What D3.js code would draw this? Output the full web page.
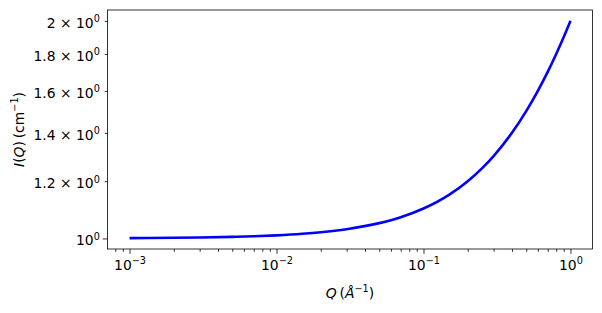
<!DOCTYPE html>
<html>
<head>
<meta charset="utf-8">
<script src="https://cdn.jsdelivr.net/npm/d3@7"></script>
<style>
  body { margin: 0; background: #fff; }
</style>
</head>
<body>
<svg width="602" height="313" font-family="DejaVu Sans"></svg>
<script>
// scattering curve
let q = [0.001, 0.002, 0.003, 0.005, 0.007, 0.01, 0.015, 0.02, 0.03, 0.05, 0.07,
         0.1, 0.15, 0.2, 0.25, 0.3, 0.4, 0.5, 0.6, 0.7, 0.8, 0.9, 1.0];
let intensity = [1.001, 1.002, 1.003, 1.005, 1.007, 1.01, 1.015, 1.02, 1.03, 1.05, 1.07,
                 1.10, 1.15, 1.20, 1.25, 1.30, 1.40, 1.50, 1.60, 1.70, 1.80, 1.90, 2.00];

// tick labels
let xTickExponents = [-3, -2, -1, 0];
let yTickValues = [1.0, 1.2, 1.4, 1.6, 1.8, 2.0];
let yTickMantissas = ["", "1.2", "1.4", "1.6", "1.8", "2"];

const svg = d3.select("svg");
const mLeft = 107.5, mRight = 592.5, mTop = 10, mBottom = 249;
const fontSize = 13.9, supSize = 9.7;

// log extent with matplotlib's 5% margin
function padLog(values) {
    let lo = Math.log10(d3.min(values)), hi = Math.log10(d3.max(values));
    let m = (hi - lo) * 0.05;
    return [Math.pow(10, lo - m), Math.pow(10, hi + m)];
}

const x = d3.scaleLog().domain(padLog(q)).range([mLeft, mRight]);
const y = d3.scaleLog().domain(padLog(intensity)).range([mBottom, mTop]);

// minor ticks on x: 2..9 times each decade, inside the domain
let xMinor = [];
for (let e = -4; e <= 0; e++) {
    for (let k = 2; k <= 9; k++) {
        let v = k * Math.pow(10, e);
        if (v >= x.domain()[0] && v <= x.domain()[1]) xMinor.push(v);
    }
}

function sup(textSel, base, exp) {
    textSel.text(null);
    textSel.append("tspan").text(base);
    textSel.append("tspan").attr("font-size", supSize).attr("dy", "-0.55em").text(exp);
}

// d3 axes put their own font on the group; take it off again
function plainFont(g) {
    g.attr("font-family", null).attr("font-size", fontSize);
    g.select(".domain").remove();
}

// x axis
svg.append("g")
    .attr("transform", `translate(0,${mBottom})`)
    .call(d3.axisBottom(x).tickValues(xMinor).tickSize(2.8).tickFormat(""))
    .call(plainFont);

svg.append("g")
    .attr("transform", `translate(0,${mBottom})`)
    .call(d3.axisBottom(x).tickValues(xTickExponents.map(e => Math.pow(10, e)))
        .tickSize(4.9).tickPadding(6).tickFormat(""))
    .call(plainFont)
    .selectAll(".tick text")
    .each(function (d, i) {
        let e = xTickExponents[i];
        sup(d3.select(this), "10", e < 0 ? "\u2212" + (-e) : String(e));
    });

// y axis
svg.append("g")
    .attr("transform", `translate(${mLeft},0)`)
    .call(d3.axisLeft(y).tickValues(yTickValues)
        .tickSize(2.8).tickPadding(4.9).tickFormat(""))
    .call(plainFont)
    .call(g => g.selectAll(".tick line")
        .attr("x2", (d, i) => i === 0 ? -4.9 : -2.8))
    .selectAll(".tick text")
    .attr("x", -7.7)
    .attr("dy", "0.45em")
    .each(function (d, i) {
        let m = yTickMantissas[i];
        sup(d3.select(this), m ? m + " \u00d7 10" : "10", "0");
    });

svg.selectAll(".tick line").attr("stroke", "#000").attr("stroke-width", 0.8);

// curve
const line = d3.line()
    .x((d, i) => x(q[i]))
    .y(d => y(d))
    .curve(d3.curveMonotoneX);

svg.append("path")
    .datum(intensity)
    .attr("d", line)
    .attr("fill", "none")
    .attr("stroke", "#0000ff")
    .attr("stroke-width", 2.6);

// frame
svg.append("rect")
    .attr("x", mLeft).attr("y", mTop)
    .attr("width", mRight - mLeft).attr("height", mBottom - mTop)
    .attr("fill", "none").attr("stroke", "#000").attr("stroke-width", 0.8);

// axis labels
const xl = svg.append("text")
    .attr("x", (mLeft + mRight) / 2).attr("y", 298)
    .attr("text-anchor", "middle").attr("font-size", fontSize);
xl.append("tspan").attr("font-style", "italic").text("Q");
xl.append("tspan").text("\u2009(");
xl.append("tspan").attr("font-style", "italic").text("\u00c5");
xl.append("tspan").attr("font-size", supSize).attr("dy", "-0.6em").text("\u22121");
xl.append("tspan").attr("dy", "0.4em").text(")");

const yl = svg.append("text")
    .attr("transform", `translate(24,${(mTop + mBottom) / 2}) rotate(-90)`)
    .attr("text-anchor", "middle").attr("font-size", fontSize);
yl.append("tspan").attr("font-style", "italic").text("I");
yl.append("tspan").text("(");
yl.append("tspan").attr("font-style", "italic").text("Q");
yl.append("tspan").text(")\u2009(cm");
yl.append("tspan").attr("font-size", supSize).attr("dy", "-0.6em").text("\u22121");
yl.append("tspan").attr("dy", "0.4em").text(")");
</script>
</body>
</html>
